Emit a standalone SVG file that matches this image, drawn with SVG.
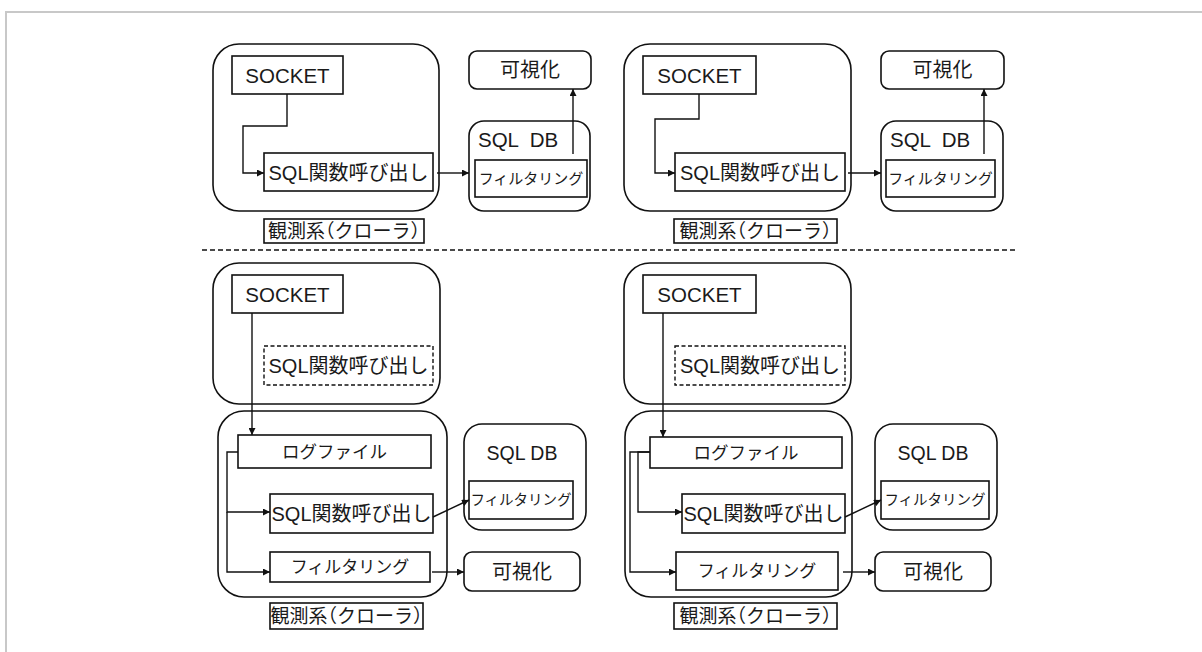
<svg xmlns="http://www.w3.org/2000/svg" width="1202" height="652" viewBox="0 0 1202 652">
<defs>
<marker id="ah" viewBox="0 0 10 10" refX="10" refY="5" markerWidth="7" markerHeight="7" markerUnits="userSpaceOnUse" orient="auto"><path d="M0,0 L10,5 L0,10 z" fill="#111"/></marker>
<style>
.t{font-family:"Liberation Sans","Noto Sans CJK JP",sans-serif;fill:#1a1a1a;text-anchor:middle;dominant-baseline:central}
.p{white-space:pre;text-anchor:start}
.b{fill:#fff;stroke:#111;stroke-width:1.6}
.g{fill:none;stroke:#111;stroke-width:1.6}
.d{fill:#fff;stroke:#111;stroke-width:1.4;stroke-dasharray:4,2.5}
.c{fill:none;stroke:#111;stroke-width:1.4;marker-end:url(#ah)}
</style>
</defs>
<rect width="1202" height="652" fill="#fff"/>
<path d="M6,652 V12 H1202" fill="none" stroke="#c8c8c8" stroke-width="2"/>
<line x1="202" y1="250" x2="1018" y2="250" stroke="#111" stroke-width="1.4" stroke-dasharray="5,3"/>

<!-- Top-left panel -->
<g id="tl-crawler"><rect class="g" x="213" y="44" width="226" height="167" rx="26"/></g>
<g id="tl-socket"><rect class="b" x="232" y="56" width="111" height="38"/><text class="t" x="287.5" y="75.5" font-size="20.5">SOCKET</text></g>
<g id="tl-sql"><rect class="b" x="264" y="153" width="169" height="38"/><text class="t" x="348.5" y="172.5" font-size="20">SQL関数呼び出し</text></g>
<g id="tl-db"><rect class="g" x="469" y="121" width="121" height="90" rx="15"/><text class="t p" x="478" y="139" font-size="20.5" xml:space="preserve">SQL  DB</text>
<rect class="b" x="475" y="160" width="112" height="37"/><text class="t" x="531" y="178.5" font-size="15">フィルタリング</text></g>
<g id="tl-vis"><rect class="b" x="469" y="51" width="122" height="38" rx="8"/><text class="t" x="530" y="70" font-size="20">可視化</text></g>
<g id="tl-label"><rect class="b" x="264" y="219" width="160" height="24" stroke-width="1.2"/><text class="t" x="348.75" y="231" font-size="19" dx="0 0 0 -9.5">観測系（クローラ）</text></g>

<!-- Top-right panel -->
<g id="tr-crawler"><rect class="g" x="624" y="44" width="227" height="167" rx="26"/></g>
<g id="tr-socket"><rect class="b" x="643" y="56" width="113" height="38"/><text class="t" x="699.5" y="75.5" font-size="20.5">SOCKET</text></g>
<g id="tr-sql"><rect class="b" x="675" y="153" width="170" height="38"/><text class="t" x="760" y="172.5" font-size="20">SQL関数呼び出し</text></g>
<g id="tr-db"><rect class="g" x="881" y="121" width="122" height="90" rx="15"/><text class="t p" x="890" y="139" font-size="20.5" xml:space="preserve">SQL  DB</text>
<rect class="b" x="886" y="160" width="109" height="37"/><text class="t" x="940.5" y="178.5" font-size="15">フィルタリング</text></g>
<g id="tr-vis"><rect class="b" x="881" y="51" width="123" height="38" rx="8"/><text class="t" x="942.5" y="70" font-size="20">可視化</text></g>
<g id="tr-label"><rect class="b" x="674" y="219" width="163" height="24" stroke-width="1.2"/><text class="t" x="760.25" y="231" font-size="19" dx="0 0 0 -9.5">観測系（クローラ）</text></g>

<!-- Bottom-left panel -->
<g id="bl-crawler-top"><rect class="g" x="213" y="263" width="227" height="141" rx="26"/></g>
<g id="bl-socket"><rect class="b" x="232" y="275" width="111" height="38"/><text class="t" x="287.5" y="294.5" font-size="20.5">SOCKET</text></g>
<g id="bl-sql-dashed"><rect class="d" x="264" y="346" width="169" height="39"/><text class="t" x="348.5" y="366" font-size="20">SQL関数呼び出し</text></g>
<g id="bl-crawler-bottom"><rect class="g" x="218" y="411" width="229" height="186" rx="26"/></g>
<g id="bl-log"><rect class="b" x="238" y="435" width="193" height="33"/><text class="t" x="334.5" y="452" font-size="17.5">ログファイル</text></g>
<g id="bl-sql"><rect class="b" x="270" y="494" width="163" height="39"/><text class="t" x="351.5" y="513.5" font-size="20">SQL関数呼び出し</text></g>
<g id="bl-filter"><rect class="b" x="270" y="552" width="160" height="30"/><text class="t" x="350" y="567.5" font-size="17">フィルタリング</text></g>
<g id="bl-db"><rect class="g" x="464" y="424" width="122" height="106" rx="18"/><text class="t" x="522" y="453" font-size="19.5">SQL DB</text>
<rect class="b" x="469" y="481" width="104" height="38"/><text class="t" x="521" y="500" font-size="14.5">フィルタリング</text></g>
<g id="bl-vis"><rect class="b" x="464" y="552" width="116" height="39" rx="8"/><text class="t" x="522" y="571.5" font-size="20">可視化</text></g>
<g id="bl-label"><rect class="b" x="270" y="603" width="153" height="26" stroke-width="1.2"/><text class="t" x="351.25" y="616" font-size="19" dx="0 0 0 -9.5">観測系（クローラ）</text></g>

<!-- Bottom-right panel -->
<g id="br-crawler-top"><rect class="g" x="624" y="263" width="227" height="141" rx="26"/></g>
<g id="br-socket"><rect class="b" x="643" y="275" width="113" height="38"/><text class="t" x="699.5" y="294.5" font-size="20.5">SOCKET</text></g>
<g id="br-sql-dashed"><rect class="d" x="675" y="346" width="170" height="39"/><text class="t" x="760" y="366" font-size="20">SQL関数呼び出し</text></g>
<g id="br-crawler-bottom"><rect class="g" x="625" y="411" width="227" height="186" rx="26"/></g>
<g id="br-log"><rect class="b" x="650" y="437" width="192" height="31"/><text class="t" x="746" y="452.5" font-size="17.5">ログファイル</text></g>
<g id="br-sql"><rect class="b" x="682" y="494" width="163" height="39"/><text class="t" x="763.5" y="513.5" font-size="20">SQL関数呼び出し</text></g>
<g id="br-filter"><rect class="b" x="676" y="552" width="162" height="38"/><text class="t" x="757" y="571" font-size="17">フィルタリング</text></g>
<g id="br-db"><rect class="g" x="875" y="424" width="122" height="106" rx="18"/><text class="t" x="933" y="453" font-size="19.5">SQL DB</text>
<rect class="b" x="881" y="481" width="108" height="38"/><text class="t" x="935" y="500" font-size="14.5">フィルタリング</text></g>
<g id="br-vis"><rect class="b" x="875" y="552" width="116" height="39" rx="8"/><text class="t" x="933" y="571.5" font-size="20">可視化</text></g>
<g id="br-label"><rect class="b" x="674" y="603" width="163" height="26" stroke-width="1.2"/><text class="t" x="760.25" y="616" font-size="19" dx="0 0 0 -9.5">観測系（クローラ）</text></g>

<g id="connectors">
<path class="c" d="M287,94 V126 H243 V173 H264"/>
<path class="c" d="M437,173 H469"/>
<path class="c" d="M573,154 V89"/>
<path class="c" d="M699,94 V119 H655 V173 H675"/>
<path class="c" d="M848,173 H881"/>
<path class="c" d="M984,154 V89"/>
<path class="c" d="M252,313 V435"/>
<path class="c" d="M238,452 H227 V512 H270"/>
<path class="c" d="M227,512 V572 H270"/>
<path class="c" d="M433,517 L469,500"/>
<path class="c" d="M432,572 H464"/>
<path class="c" d="M663,313 V437"/>
<path class="c" d="M650,452 H630 V572 H676"/>
<path class="c" d="M650,452 H638 V512 H682"/>
<path class="c" d="M845,517 L881,500"/>
<path class="c" d="M843,572 H875"/>
</g>
</svg>
